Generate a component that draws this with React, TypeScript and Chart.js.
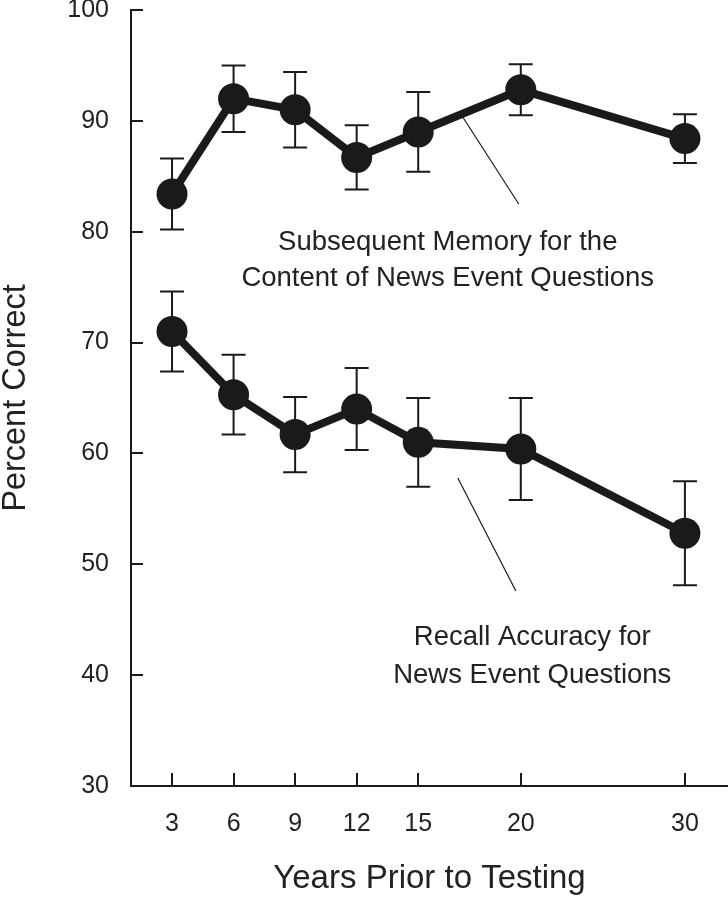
import React, { useEffect, useRef } from 'react';
import { Chart, registerables, LinearScale } from 'chart.js';

// ---- data ----
const YEARS = [3, 6, 9, 12, 15, 20, 30];
const MEMORY = [83.4, 92.0, 91.0, 86.7, 89.0, 92.8, 88.4];
const MEMORY_ERR = [3.2, 3.0, 3.4, 2.9, 3.6, 2.3, 2.2];
const RECALL = [71.0, 65.3, 61.7, 64.0, 61.0, 60.4, 52.8];
const RECALL_ERR = [3.6, 3.6, 3.4, 3.7, 4.0, 4.6, 4.7];
const Y_TICKS = [30, 40, 50, 60, 70, 80, 90, 100];
const X_TITLE = 'Years Prior to Testing';
const Y_TITLE = 'Percent Correct';
const MEMORY_NOTE = ['Subsequent Memory for the', 'Content of News Event Questions'];
const RECALL_NOTE = ['Recall Accuracy for', 'News Event Questions'];

const INK = '#1a1a1a';
const TEXT = '#222222';
const FONT = '"Liberation Sans", Arial, Helvetica, sans-serif';

// x axis is compressed beyond 20 years (as in the original figure)
const BREAK = 20;
const COMPRESS = 0.8;
const warp = (v: number) => (v <= BREAK ? v : BREAK + (v - BREAK) * COMPRESS);

class FlatLinearScale extends LinearScale {
  static id = 'flatLinear';
  static defaults = LinearScale.defaults;
  getPadding() {
    return { left: 0, top: 0, right: 0, bottom: 0 };
  }
}

class WarpedScale extends FlatLinearScale {
  static id = 'warped';
  static defaults = LinearScale.defaults;
  getPixelForValue(value: number) {
    return super.getPixelForValue(warp(value));
  }
}

Chart.register(...registerables, FlatLinearScale, WarpedScale);

const ERRORS = [MEMORY_ERR, RECALL_ERR];

const errorBarPlugin = {
  id: 'errorBars',
  beforeDatasetsDraw(chart: any) {
    const ctx = chart.ctx;
    const y = chart.scales.y;
    ctx.save();
    ctx.strokeStyle = INK;
    ctx.lineWidth = 2;
    chart.data.datasets.forEach((ds: any, di: number) => {
      const meta = chart.getDatasetMeta(di);
      meta.data.forEach((pt: any, i: number) => {
        const v = ds.data[i].y;
        const e = ERRORS[di][i];
        const top = y.getPixelForValue(v + e);
        const bot = y.getPixelForValue(v - e);
        const x = pt.x;
        const cap = 12;
        ctx.beginPath();
        ctx.moveTo(x, top);
        ctx.lineTo(x, bot);
        ctx.moveTo(x - cap, top);
        ctx.lineTo(x + cap, top);
        ctx.moveTo(x - cap, bot);
        ctx.lineTo(x + cap, bot);
        ctx.stroke();
      });
    });
    ctx.restore();
  },
};

const inwardTicksPlugin = {
  id: 'inwardTicks',
  afterDraw(chart: any) {
    const ctx = chart.ctx;
    const { x, y } = chart.scales;
    const area = chart.chartArea;
    ctx.save();
    ctx.strokeStyle = INK;
    ctx.lineWidth = 2;
    ctx.beginPath();
    y.ticks.forEach((t: any) => {
      if (t.value === y.min) return;
      const py = Math.round(y.getPixelForValue(t.value));
      ctx.moveTo(area.left, py);
      ctx.lineTo(area.left + 12, py);
    });
    x.ticks.forEach((t: any) => {
      const px = Math.round(x.getPixelForValue(t.value));
      ctx.moveTo(px, area.bottom);
      ctx.lineTo(px, area.bottom - 13);
    });
    ctx.stroke();
    ctx.restore();
  },
};

// annotation anchors in data units (years, percent)
const NOTES = [
  { lines: MEMORY_NOTE, x: 16.44, ys: [78.35, 75.1], from: [17.17, 90.35], to: [19.9, 82.5] },
  { lines: RECALL_NOTE, x: 20.7, ys: [42.72, 39.29], from: [16.93, 57.78], to: [19.76, 47.59] },
];

const notesPlugin = {
  id: 'notes',
  afterDraw(chart: any) {
    const ctx = chart.ctx;
    const { x, y } = chart.scales;
    ctx.save();
    ctx.fillStyle = TEXT;
    ctx.strokeStyle = INK;
    ctx.lineWidth = 1.2;
    ctx.font = `27.5px ${FONT}`;
    ctx.textAlign = 'center';
    ctx.textBaseline = 'alphabetic';
    NOTES.forEach((n) => {
      n.lines.forEach((line, i) => {
        ctx.fillText(line, x.getPixelForValue(n.x), y.getPixelForValue(n.ys[i]));
      });
      ctx.beginPath();
      ctx.moveTo(x.getPixelForValue(n.from[0]), y.getPixelForValue(n.from[1]));
      ctx.lineTo(x.getPixelForValue(n.to[0]), y.getPixelForValue(n.to[1]));
      ctx.stroke();
    });
    ctx.restore();
  },
};

export default function App() {
  const ref = useRef<HTMLCanvasElement>(null);
  useEffect(() => {
    const mkSet = (label: string, vals: number[]) => ({
      label,
      data: YEARS.map((yr, i) => ({ x: yr, y: vals[i] })),
      borderColor: INK,
      backgroundColor: INK,
      borderWidth: 8,
      pointRadius: 15.5,
      pointBackgroundColor: INK,
      pointBorderColor: INK,
      pointBorderWidth: 0,
      tension: 0,
      clip: false,
    });
    const chart = new Chart(ref.current as HTMLCanvasElement, {
      type: 'line',
      data: {
        datasets: [mkSet('Subsequent Memory', MEMORY), mkSet('Recall Accuracy', RECALL)] as any,
      },
      options: {
        responsive: false,
        animation: false,
        devicePixelRatio: 1,
        events: [],
        layout: { autoPadding: false, padding: { top: 10, right: 0, left: 0, bottom: 0 } },
        plugins: { legend: { display: false }, tooltip: { enabled: false } },
        scales: {
          x: {
            type: 'warped' as any,
            min: 1,
            max: 30.1,
            grid: { display: false, drawTicks: false },
            border: { display: true, color: INK, width: 2 },
            afterBuildTicks: (s: any) => {
              s.ticks = YEARS.map((v) => ({ value: v }));
            },
            afterFit: (s: any) => {
              s.height = 113;
              s.paddingLeft = 0;
              s.paddingRight = 0;
            },
            ticks: {
              autoSkip: false,
              maxRotation: 0,
              minRotation: 0,
              padding: 23,
              color: TEXT,
              font: { family: FONT, size: 25 },
              callback: (v: any) => String(v),
            },
            title: {
              display: true,
              text: X_TITLE,
              color: TEXT,
              font: { family: FONT, size: 33, lineHeight: 1.2 },
              padding: { top: 0, bottom: 0 },
            },
          } as any,
          y: {
            type: 'flatLinear' as any,
            min: 30,
            max: 100,
            grid: { display: false, drawTicks: false },
            border: { display: true, color: INK, width: 2 },
            afterBuildTicks: (s: any) => {
              s.ticks = Y_TICKS.map((v) => ({ value: v }));
            },
            afterFit: (s: any) => {
              s.width = 131;
              s.paddingTop = 0;
              s.paddingBottom = 0;
            },
            ticks: {
              padding: 22,
              color: TEXT,
              font: { family: FONT, size: 25 },
              callback: (v: any) => String(v),
            },
            title: {
              display: true,
              text: Y_TITLE,
              color: TEXT,
              font: { family: FONT, size: 32.5, lineHeight: 1.0 },
              padding: { top: 0, bottom: 0 },
            },
          } as any,
        },
      },
      plugins: [errorBarPlugin, inwardTicksPlugin, notesPlugin],
    });
    return () => chart.destroy();
  }, []);
  return (
    <div style={{ position: 'absolute', left: 0, top: 0, width: 728, height: 899, background: '#fff' }}>
      <canvas ref={ref} width={728} height={899} style={{ display: 'block' }} />
    </div>
  );
}
